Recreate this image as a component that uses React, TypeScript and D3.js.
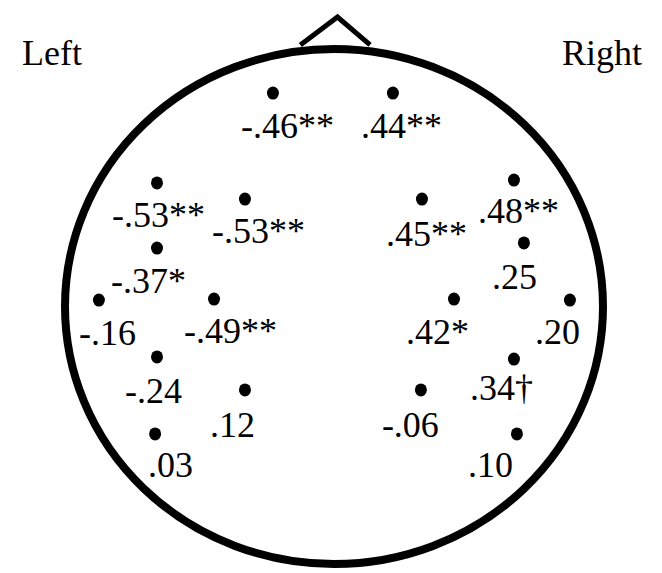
import { useEffect, useRef } from "react"
import * as d3 from "d3"

// electrode sites, head coordinates (-100..100, front is up)
const electrodes = ["Fp1", "Fp2", "F7", "F3", "F4", "F8", "FC5", "FC6", "T7", "C3", "C4", "T8", "CP5", "CP6", "P3", "P4", "P7", "P8"]
const siteX = [-22.7, 21.9, -65.8, -33.1, 32.7, 66.9, -65.8, 70.6, -87.4, -44.6, 44.6, 87.7, -65.8, 66.9, -33.1, 32.3, -66.5, 68.0]
const siteY = [82.9, 82.9, 48.0, 41.7, 41.7, 49.1, 22.7, 24.7, 2.5, 2.9, 2.9, 2.5, -19.6, -20.4, -32.4, -32.4, -49.5, -49.5]

// correlations and significance marks
const rValues = [-0.46, 0.44, -0.53, -0.53, 0.45, 0.48, -0.37, 0.25, -0.16, -0.49, 0.42, 0.2, -0.24, 0.34, 0.12, -0.06, 0.03, 0.1]
const sigMarks = ["**", "**", "**", "**", "**", "**", "*", "", "", "**", "*", "", "", "†", "", "", "", ""]

const sideLabels = ["Left", "Right"]

// label placement relative to the dot (px)
const labelDx = [-32, -32, -45, -33, -36, -36, -46, -32, -20, -30, -48, -35, -32, -44, -35, -39, -7, -49]
const labelDy = [45, 45, 44, 44, 47, 43, 45, 46, 45, 44, 45, 44, 46, 41, 47, 47, 43, 43]

const width = 662
const height = 573
const font = "'Liberation Serif', 'Times New Roman', serif"

export default function App() {
  const svgRef = useRef<SVGSVGElement>(null)

  useEffect(() => {
    const svg = d3.select(svgRef.current)

    const xScale = d3.scaleLinear().domain([-100, 100]).range([65, 603])
    const yScale = d3.scaleLinear().domain([100, -100]).range([49, 564])

    const data = electrodes.map((name, i) => ({
      name,
      x: siteX[i],
      y: siteY[i],
      r: rValues[i],
      sig: sigMarks[i],
      dx: labelDx[i],
      dy: labelDy[i],
    }))

    // plain hyphen and no leading zero, like the original
    const fmt = d3.format(".2f")
    const label = (v: number) => fmt(v).replace("\u2212", "-").replace("0.", ".")

    // head outline
    svg
      .selectAll(".head")
      .data([0])
      .join("ellipse")
      .attr("class", "head")
      .attr("cx", xScale(0))
      .attr("cy", yScale(0))
      .attr("rx", xScale(100) - xScale(0))
      .attr("ry", yScale(-100) - yScale(0))
      .attr("fill", "none")
      .attr("stroke", "#000")
      .attr("stroke-width", 8)

    // nose
    const nose: [number, number][] = [
      [-12.5, 101.6],
      [1.3, 112.4],
      [13.4, 101.6],
    ]
    const noseLine = d3
      .line<[number, number]>()
      .x((d) => xScale(d[0]))
      .y((d) => yScale(d[1]))

    svg
      .selectAll(".nose")
      .data([nose])
      .join("path")
      .attr("class", "nose")
      .attr("d", noseLine)
      .attr("fill", "none")
      .attr("stroke", "#000")
      .attr("stroke-width", 5)
      .attr("stroke-linejoin", "miter")

    svg
      .selectAll(".site")
      .data(data)
      .join("ellipse")
      .attr("class", "site")
      .attr("cx", (d) => xScale(d.x))
      .attr("cy", (d) => yScale(d.y))
      .attr("rx", 6)
      .attr("ry", 6.5)
      .attr("fill", "#000")

    svg
      .selectAll(".value")
      .data(data)
      .join("text")
      .attr("class", "value")
      .attr("x", (d) => xScale(d.x) + d.dx)
      .attr("y", (d) => yScale(d.y) + d.dy)
      .attr("font-family", font)
      .attr("font-size", 36)
      .attr("fill", "#000")
      .text((d) => label(d.r) + d.sig)

    svg
      .selectAll(".side")
      .data(sideLabels)
      .join("text")
      .attr("class", "side")
      .attr("x", (d, i) => (i === 0 ? 22 : 562))
      .attr("y", 65)
      .attr("font-family", font)
      .attr("font-size", 36)
      .attr("fill", "#000")
      .text((d) => d)
  }, [])

  return (
    <svg
      ref={svgRef}
      width={width}
      height={height}
      style={{ position: "absolute", left: 0, top: 0, background: "#fff" }}
    />
  )
}
